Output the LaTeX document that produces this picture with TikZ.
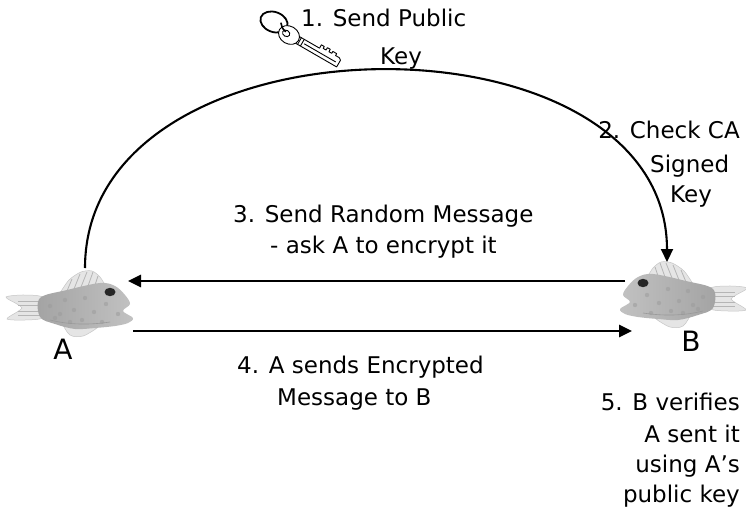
\documentclass[tikz,border=0pt]{standalone}
\usepackage{fontspec}
\setmainfont{DejaVu Sans}
\usetikzlibrary{arrows.meta}

\tikzset{
  label/.style={inner sep=0pt, font=\fontsize{23}{28}\selectfont},
  party/.style={inner sep=0pt, font=\fontsize{28}{32}\selectfont},
  msg/.style={line width=2.6pt, -{Triangle[length=13pt,width=12pt]}},
  fishbody/.style={left color=gray!72, right color=gray!48},
  finfill/.style={fill=gray!20, draw=gray!45, line width=0.5pt},
  finray/.style={draw=gray!58, line width=0.8pt},
  fish/.pic={
    % tail
    \path[finfill] plot[smooth cycle, tension=0.5] coordinates
      {(-66,6) (-85,3) (-104,5) (-93,12) (-88,16) (-93,20) (-103,27) (-85,28) (-66,25)};
    \foreach \yy in {9,13,19,23} \draw[finray] (-68,\yy) -- (-92,\yy);
    % dorsal fin
    \path[finfill] plot[smooth, tension=0.5] coordinates
      {(-50,1) (-41,-12) (-29,-20) (-18,-21) (-10,-15) (-5,-7)} -- cycle;
    \draw[finray] (-43,-1) -- (-38,-13);
    \draw[finray] (-36,-3) -- (-30,-18);
    \draw[finray] (-29,-5) -- (-23,-20);
    \draw[finray] (-22,-6) -- (-17,-20);
    \draw[finray] (-15,-7) -- (-12,-16);
    % pelvic fin
    \path[finfill] plot[smooth, tension=0.6] coordinates
      {(-48,31) (-40,43) (-27,44) (-13,36)} -- cycle;
    % body
    \shade[fishbody] plot[smooth cycle, tension=0.55] coordinates
      {(-70,6) (-43,-2) (-10,-9) (5,-6) (15,3) (20,12) (13,19) (23,26) (18,31)
       (5,34) (-15,36) (-35,37) (-55,32) (-70,25)};
    % scale mottling
    \foreach \px/\py in {-60/14,-50/22,-45/8,-36/18,-28/28,-25/6,-16/20,-8/30,-4/12,-40/30,-55/26,8/22}
      \fill[gray!78, opacity=0.55] (\px,\py) circle [radius=2.2];
    \draw[gray!80, line width=0.6pt] (-60,28) .. controls (-40,33) and (-20,33) .. (0,30);
    % eye
    \fill[black!85] (0,0) ellipse [x radius=5.5, y radius=4.2];
  }
}

\begin{document}
\begin{tikzpicture}[x=1pt, y=-1pt]
\useasboundingbox (0,0) rectangle (746,524);
\fill[white] (0,0) rectangle (746,524);

% the two fish
\pic (fishA) at (110,292) {fish};
\pic[xscale=-1, fishbody/.style={left color=gray!48, right color=gray!72}] (fishB) at (643,283) {fish};
\node[party] (labA) at (63,349) {A};
\node[party] (labB) at (691,341) {B};

% connector end points next to the fish
\coordinate (arcA) at (85,268);
\coordinate (arcB) at (667,262);
\coordinate (m3B) at (625,281);
\coordinate (m3A) at (128,281);
\coordinate (m4A) at (133,331);
\coordinate (m4B) at (632,331);

% step 1/2: the key travels over the arc
\draw[line width=2.1pt, -{Triangle[length=13pt,width=12pt]}]
  (arcA) .. controls (85,8) and (667,4) .. (arcB);

% step 3 and step 4 messages
\draw[msg] (m3B) -- (m3A);
\draw[msg] (m4A) -- (m4B);

% key on its ring
\draw[line width=1.8pt] (274,22) ellipse [x radius=14, y radius=10, rotate=-20];
\begin{scope}[shift={(289,35)}, rotate=-30, scale=1.1, line width=0.9pt, line join=round]
  \filldraw[fill=white] (8,-3.5) -- (30,-3.5) -- (30,-7) -- (33,-7) -- (33,-5)
    -- (36,-5) -- (36,-7.5) -- (39,-7.5) -- (39,-5) -- (42,-5) -- (42,-7)
    -- (46,-7) -- (46,-5) -- (50,-5) -- (52,-3.5) -- (52,3.5) -- (8,3.5) -- cycle;
  \draw (16,0) -- (49,0);
  \draw (11,-3.5) -- (11,3.5);
  \draw (14,-3.5) -- (14,3.5);
  \filldraw[fill=white] (0,0) ellipse [x radius=10, y radius=8];
  \draw (-3,0) ellipse [x radius=3.5, y radius=2.8];
  \draw[line width=1.6pt] (-12,-6) .. controls (-8,-2) .. (-4,-1);
\end{scope}

% captions
\node[label, anchor=base west] (t1a) at (301,27) {1. Send Public};
\node[label, anchor=base west] (t1b) at (380,65) {Key};
\node[label, anchor=base east] (t2a) at (740,138) {2. Check CA};
\node[label, anchor=base west] (t2b) at (650,172) {Signed};
\node[label, anchor=base west] (t2c) at (670,202) {Key};
\node[label, anchor=base west] (t3a) at (233,222) {3. Send Random Message};
\node[label, anchor=base west] (t3b) at (270,253) {- ask A to encrypt it};
\node[label, anchor=base west] (t4a) at (237,373) {4. A sends Encrypted};
\node[label, anchor=base west] (t4b) at (277,405) {Message to B};
\node[label, anchor=base east] (t5a) at (740,410) {5. B verifies};
\node[label, anchor=base east] (t5b) at (740,442) {A sent it};
\node[label, anchor=base east] (t5c) at (740,472) {using A’s};
\node[label, anchor=base east] (t5d) at (740,502) {public key};
\end{tikzpicture}
\end{document}
